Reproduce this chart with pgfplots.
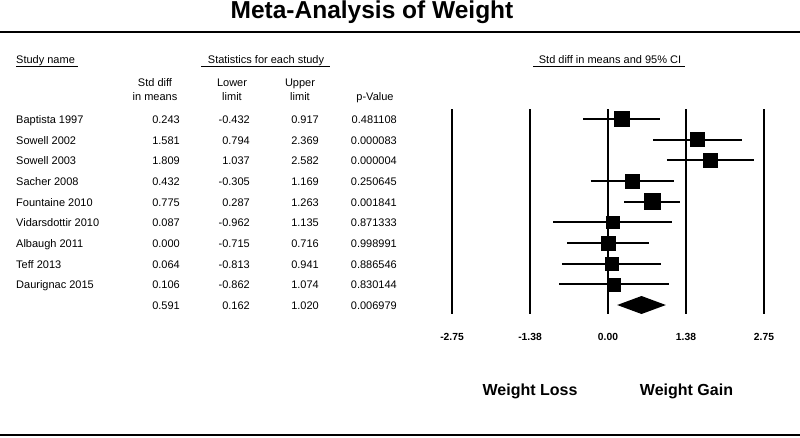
\documentclass[border=0pt]{standalone}
\usepackage{pgfplots}
\pgfplotsset{compat=1.18}
\usepackage{pgfplotstable}
\usepackage{fontspec}
\setmainfont{Liberation Sans}

\pgfplotstableread{
row m lo hi s
0 0.243 -0.432 0.917 15
1 1.581 0.794 2.369 14
2 1.809 1.037 2.582 14
3 0.432 -0.305 1.169 14
4 0.775 0.287 1.263 16
5 0.087 -0.962 1.135 12.5
6 0.000 -0.715 0.716 14.5
7 0.064 -0.813 0.941 13.5
8 0.106 -0.862 1.074 13
}\studies

\pgfplotstableread{
x y
-0.432 0
0.917 0
nan nan
0.794 1
2.369 1
nan nan
1.037 2
2.582 2
nan nan
-0.305 3
1.169 3
nan nan
0.287 4
1.263 4
nan nan
-0.962 5
1.135 5
nan nan
-0.715 6
0.716 6
nan nan
-0.813 7
0.941 7
nan nan
-0.862 8
1.074 8
}\cis

\begin{document}
\begin{tikzpicture}[every node/.style={font=\fontsize{11}{13}\selectfont, inner sep=0pt}]
\useasboundingbox (0pt,0pt) rectangle (800pt,-437pt);
% title and rules
\node[anchor=base, font=\bfseries\fontsize{24.5}{28}\selectfont] at (372pt,-18.5pt) {Meta-Analysis of Weight};
\draw[line width=2.5pt] (0pt,-32pt) -- (800pt,-32pt);
\draw[line width=2.5pt] (0pt,-435pt) -- (800pt,-435pt);
% group headers
\node[anchor=base west] at (16pt,-63.5pt) {Study name};
\draw[line width=1pt] (16pt,-66.5pt) -- (78pt,-66.5pt);
\node[anchor=base] at (266pt,-63.5pt) {Statistics for each study};
\draw[line width=1pt] (201pt,-66.5pt) -- (330pt,-66.5pt);
\node[anchor=base] at (610pt,-63.5pt) {Std diff in means and 95\% CI};
\draw[line width=1pt] (533pt,-66.5pt) -- (685pt,-66.5pt);
% column headers
\node[anchor=base] at (155pt,-86.7pt) {Std diff};
\node[anchor=base] at (155pt,-100.7pt) {in means};
\node[anchor=base] at (232pt,-86.7pt) {Lower};
\node[anchor=base] at (232pt,-100.7pt) {limit};
\node[anchor=base] at (300pt,-86.7pt) {Upper};
\node[anchor=base] at (300pt,-100.7pt) {limit};
\node[anchor=base] at (375pt,-100.7pt) {p-Value};
% table rows
\foreach \i/\name/\a/\b/\c/\p in {
 0/Baptista 1997/0.243/-0.432/0.917/0.481108,
 1/Sowell 2002/1.581/0.794/2.369/0.000083,
 2/Sowell 2003/1.809/1.037/2.582/0.000004,
 3/Sacher 2008/0.432/-0.305/1.169/0.250645,
 4/Fountaine 2010/0.775/0.287/1.263/0.001841,
 5/Vidarsdottir 2010/0.087/-0.962/1.135/0.871333,
 6/Albaugh 2011/0.000/-0.715/0.716/0.998991,
 7/Teff 2013/0.064/-0.813/0.941/0.886546,
 8/Daurignac 2015/0.106/-0.862/1.074/0.830144,
 9/ /0.591/0.162/1.020/0.006979}{
  \pgfmathsetmacro\yb{-(123.5+20.67*\i)}
  \node[anchor=base west] at (16pt,\yb pt) {\name};
  \node[anchor=base east] at (180pt,\yb pt) {\a};
  \node[anchor=base east] at (250pt,\yb pt) {\b};
  \node[anchor=base east] at (319pt,\yb pt) {\c};
  \node[anchor=base east] at (397pt,\yb pt) {\p};
}
% bottom labels
\node[anchor=base, font=\bfseries\fontsize{16}{19}\selectfont] at (530pt,-395pt) {Weight Loss};
\node[anchor=base, font=\bfseries\fontsize{16}{19}\selectfont] at (686.5pt,-395pt) {Weight Gain};
% forest plot
\begin{axis}[at={(452pt,-314.3pt)}, anchor=south west, scale only axis,
  width=312pt, height=205pt,
  xmin=-2.75, xmax=2.75, ymin=-0.47, ymax=9.45, y dir=reverse,
  clip=false, axis line style={draw=none}, tick style={draw=none},
  ytick=\empty,
  xtick={-2.75,-1.375,0,1.375,2.75},
  xticklabels={-2.75,-1.38,0.00,1.38,2.75},
  xticklabel style={font=\bfseries\fontsize{10.3}{12}\selectfont, anchor=center, yshift=-23pt},
  xmajorgrids, major grid style={line width=2.4pt, black}]
\addplot[black, line width=2.1pt, mark=none, unbounded coords=jump] table[x=x, y=y] {\cis};
\addplot[scatter, only marks, mark=square*, point meta=\thisrow{s},
  scatter/use mapped color={draw=black, fill=black},
  visualization depends on={\thisrow{s}/2 \as \half},
  scatter/@pre marker code/.append style={/tikz/mark size=\half}]
  table[x=m, y=row] {\studies};
\addplot[fill=black, draw=none] coordinates {(0.162,9) (0.591,8.565) (1.020,9) (0.591,9.435)} --cycle;
\end{axis}
\end{tikzpicture}
\end{document}
